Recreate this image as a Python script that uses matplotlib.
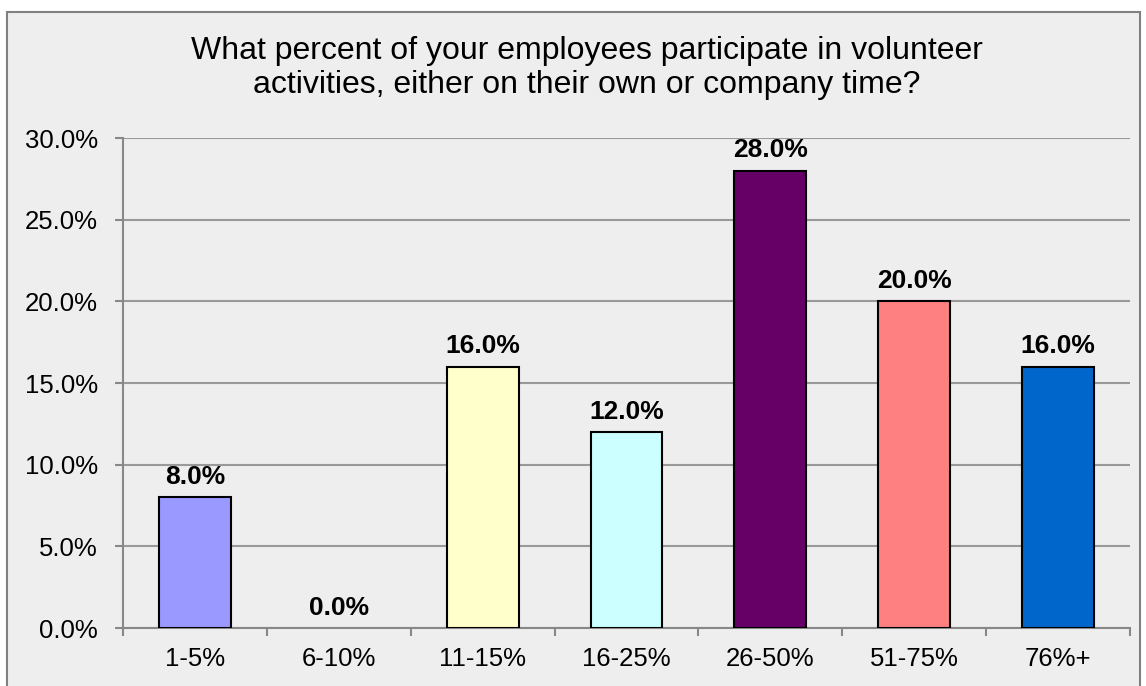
import matplotlib.pyplot as plt
from matplotlib.patches import Rectangle
from matplotlib.ticker import FixedLocator, FuncFormatter

categories = ['1-5%', '6-10%', '11-15%', '16-25%', '26-50%', '51-75%', '76%+']
values = [8.0, 0.0, 16.0, 12.0, 28.0, 20.0, 16.0]
colors = ['#9999ff', '#993366', '#ffffcc', '#ccffff', '#660066', '#ff8080', '#0066cc']

plt.rcParams['font.family'] = ['Liberation Sans', 'DejaVu Sans']

fig = plt.figure(figsize=(11.46, 6.86), dpi=100)
fig.patch.set_facecolor('white')

# grey chart area with border, as in the spreadsheet export
W, H = 1146, 686
fig.patches.append(Rectangle((7 / W, -0.05), (1140 - 7) / W, (H - 12) / H + 0.05,
                             transform=fig.transFigure, facecolor='#eeeeee',
                             edgecolor='#808080', linewidth=1.5, zorder=-5))

ax = fig.add_axes([123 / W, (H - 628) / H, (1130 - 123) / W, (628 - 138) / H])
ax.set_facecolor('none')

x = list(range(len(categories)))
# zero-height bars have no visible outline
edge_w = [1.5 if v > 0 else 0 for v in values]
bars = ax.bar(x, values, width=0.5, color=colors, edgecolor='black', linewidth=edge_w, zorder=3)

for xi, v in zip(x, values):
    ax.annotate(f'{v:.1f}%', (xi, v), xytext=(0, 6), textcoords='offset points',
                ha='center', va='bottom', fontsize=19, fontweight='bold', zorder=4)

ax.set_xlim(-0.5, len(categories) - 0.5)
ax.set_ylim(0, 30)
ax.set_yticks([0, 5, 10, 15, 20, 25, 30])
ax.yaxis.set_major_formatter(FuncFormatter(lambda v, p: f'{v:.1f}%'))
ax.set_xticks(x)
ax.set_xticklabels(categories)
ax.xaxis.set_minor_locator(FixedLocator([i - 0.5 for i in range(len(categories) + 1)]))

ax.tick_params(axis='x', which='major', length=0, labelsize=18.5, pad=14)
ax.tick_params(axis='x', which='minor', length=6, width=1.5, color='#888888')
ax.tick_params(axis='y', length=6, width=1.5, color='#888888', labelsize=18.5, pad=12)

ax.grid(axis='y', color='#999999', linewidth=1.5, zorder=0)
for s in ['top', 'right']:
    ax.spines[s].set_visible(False)
for s in ['left', 'bottom']:
    ax.spines[s].set_color('#888888')
    ax.spines[s].set_linewidth(1.5)

fig.text(587 / W, 1 - 68 / H,
         'What percent of your employees participate in volunteer\nactivities, either on their own or company time?',
         ha='center', va='center', fontsize=23, linespacing=1.15)

plt.savefig('out.png', dpi=100)
